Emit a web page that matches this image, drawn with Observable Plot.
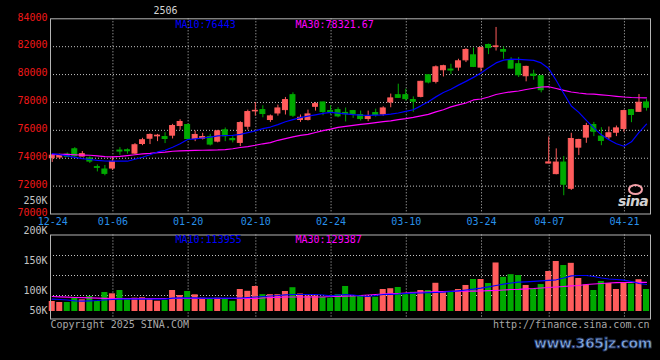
<!DOCTYPE html>
<html><head><meta charset="utf-8">
<script src="https://cdn.jsdelivr.net/npm/d3@7"></script>
<script src="https://cdn.jsdelivr.net/npm/@observablehq/plot@0.6"></script>
<style>
html,body{margin:0;padding:0;background:#000;}
#wrap{position:relative;width:660px;height:360px;background:#000;overflow:hidden;font-family:"DejaVu Sans Mono",monospace;}
#wrap svg{position:absolute;left:0;}
.wm1{position:absolute;left:534px;top:335px;font:bold 14px "DejaVu Sans",sans-serif;color:#86acdf;-webkit-text-stroke:0.8px #1b2b55;letter-spacing:-0.4px;white-space:nowrap;}
.wm2{position:absolute;left:618px;top:193px;font:italic bold 14px "DejaVu Sans",sans-serif;color:#d2d2d2;letter-spacing:-0.6px;}
.wm3{position:absolute;left:628px;top:184px;width:11px;height:7px;border:2px solid #f4a0a8;border-radius:50%;}
</style></head><body><div id="wrap"></div>
<script>
const title = "2506";
const dates = ["12-24","12-25","12-26","12-27","12-30","12-31","01-02","01-03","01-06","01-07",
"01-08","01-09","01-10","01-13","01-14","01-15","01-16","01-17","01-20","01-21",
"01-22","01-23","01-24","01-27","02-05","02-06","02-07","02-10","02-11","02-12",
"02-13","02-14","02-17","02-18","02-19","02-20","02-21","02-24","02-25","02-26",
"02-27","02-28","03-03","03-04","03-05","03-06","03-07","03-10","03-11","03-12",
"03-13","03-14","03-17","03-18","03-19","03-20","03-21","03-24","03-25","03-26",
"03-27","03-28","03-31","04-01","04-02","04-03","04-07","04-08","04-09","04-10",
"04-11","04-14","04-15","04-16","04-17","04-18","04-21","04-22","04-23","04-24"];
const open = [74000,74050,74260,74640,74120,73980,73360,73190,73260,74550,
74570,74330,75020,75400,75570,75520,75620,76310,76380,75380,
75400,75520,75190,76000,75380,75100,76260,77360,77450,76740,
77210,77450,78520,76740,76740,77690,78000,77380,77450,77250,
77380,77100,76810,77240,77140,78000,78520,78520,78170,78400,
79950,79480,80310,80360,80500,81020,81380,80500,82120,81980,
81760,81020,80740,79880,80000,79880,73620,72860,73690,71810,
74760,75480,76380,75550,75500,75830,76100,77450,77330,78000];
const high = [74280,74290,74380,74760,74480,74100,73520,73480,74100,74760,
74670,75050,75430,75740,75710,75830,76430,76760,76430,75950,
75790,75710,76000,76170,75550,76620,77450,78000,77760,77100,
77810,78360,78690,77100,77450,78000,78020,77760,77620,77600,
77430,77380,77380,77520,77690,78600,79310,78950,78400,79520,
80000,80620,80670,80740,81100,81860,81900,81980,82190,83380,
81980,81210,81210,80600,80310,79950,75520,74670,74120,75790,
75360,76500,76570,76190,76240,76310,77450,77500,78570,78210];
const low = [73700,73900,74050,74070,74100,73620,73020,72740,73120,74210,
74290,74260,74900,74980,75190,75050,75380,76000,75330,75190,
75310,74880,75100,75190,75100,74830,76020,77020,76900,76570,
77020,77100,76930,76570,76670,77380,77050,77100,76900,76600,
76860,76670,76620,76950,77020,77620,78290,78100,77290,78330,
79330,79330,79830,80000,80240,80860,80500,80190,81430,81690,
81100,80380,79790,79480,79600,78690,73600,72810,71310,71690,
74190,75070,75550,74900,75310,75550,75860,76550,77290,77380];
const close = [74180,74210,74100,74140,74290,73760,73310,72880,73740,74480,
74500,74930,75290,75670,75620,75380,76310,76600,75380,75670,
75520,74980,75930,75570,75290,76520,77310,77400,77170,77000,
77570,78170,77050,76900,77140,77880,77310,77310,77000,77150,
77140,76810,76950,77100,77570,78290,78330,78240,78050,79480,
79430,80520,80600,80290,80950,81760,80550,81900,81900,82020,
81640,80430,79950,80550,79900,78880,73700,73690,72100,75380,
75310,76310,75900,75240,75790,76140,77380,77100,77980,77620];
const ma10 = [74336,74264,74164,74057,73971,73907,73843,73800,73786,73786,
73786,73929,74071,74250,74450,74571,74786,75036,75343,75393,
75450,75514,75600,75629,75643,75714,75836,75964,76121,76236,
76414,76614,76772,76907,77021,77114,77214,77286,77229,77179,
77129,77093,77071,77086,77107,77157,77243,77357,77479,77757,
78057,78400,78714,78943,79243,79514,79800,80107,80486,80836,
81036,81107,81086,81050,81014,80836,80429,79571,78643,77750,
77286,76714,76179,75679,75321,75036,74857,75179,75857,76443];
const ma30 = [74264,74279,74271,74250,74229,74214,74164,74121,74093,74129,
74193,74250,74307,74350,74407,74443,74500,74529,74550,74564,
74571,74579,74593,74621,74679,74771,74836,74929,75036,75121,
75286,75407,75536,75643,75714,75843,75979,76086,76214,76286,
76357,76429,76486,76550,76621,76679,76772,76836,76929,77036,
77143,77321,77479,77679,77821,77964,78179,78250,78393,78571,
78679,78764,78821,78929,79021,79107,79129,79000,78871,78750,
78679,78621,78593,78550,78500,78443,78393,78357,78336,78321.67];
const volume = [73250,70750,70750,80750,77500,85750,73250,95750,92500,100740,
79000,81500,82500,79000,74000,75750,100740,88250,98250,90000,
81500,79500,81500,79500,73750,103260,98750,110810,90250,90250,
90250,98250,107700,92000,87000,87000,84000,81500,90250,110810,
85750,85750,85250,84000,103260,105180,108290,90250,96500,100740,
100740,118800,98250,98250,103260,113320,128270,128270,118210,169570,
133750,140260,138190,113320,103700,115690,148260,173270,163200,168680,
130790,114510,100740,123240,118210,103260,118210,117020,127680,103260];
const volMa10 = [79000,78250,77000,75000,74250,75000,75750,77000,78250,79000,
79000,79000,79000,79000,79000,79000,81500,82500,82500,82500,
81500,81500,81500,81500,81500,82000,83250,84500,85750,87000,
88250,90000,90750,90750,90750,90750,89500,87500,89500,90750,
89500,87000,85750,88250,90750,91250,92000,93250,94000,94500,
95250,95750,96500,98250,100000,102000,104000,106510,109990,113250,
116500,119540,121460,122500,123680,125010,126200,127530,131970,137450,
138260,138260,135750,131970,129460,128270,126500,123240,118210,115770];
const volMa30 = [85750,85000,84250,83250,82750,82250,81750,81250,80750,80750,
80750,80750,80750,80750,80750,80750,80750,80750,80750,80750,
80750,80750,80750,80750,80750,80750,80750,80750,82000,83250,
83750,84500,84500,84500,84500,84500,84500,85750,85750,86750,
87500,88250,89500,90750,92000,92750,93250,94500,95750,96500,
97000,97750,98250,98750,99000,99000,99000,99500,100250,100740,
102000,103260,103750,105000,105770,106960,108290,109470,110810,112510,
113250,115770,117020,118210,119540,120280,120720,121240,121240,121240];
const volMa10Label = 113955;
const volMa30Label = 129387;
const tickDates = ["12-24","01-06","01-20","02-10","02-24","03-10","03-24","04-07","04-21"];
const priceTicks = [84000,82000,80000,78000,76000,74000,72000,70000];
const priceGrid = [82000,80000,78000,76000,74000,72000];
// the source chart prints its volume labels at these spots of its volume axis
const volTickLabels = ["50K","100K","150K","200K","250K"];
const volTickAt = [50000,100000,174500,250000,325000];
const volGridLines = [188250,138250,88250];
const volBaseline = 48250;
const volTop = 350750;
const copyright = "Copyright 2025 SINA.COM";
const source = "http://finance.sina.com.cn";

const UP = "#ff5c5c", DOWN = "#00aa00";
const GRID = "#c4c4c4", FRAME = "#b4b4b4";
const idx = d3.range(dates.length);
const candles = idx.map(i => ({i, o: open[i], h: high[i], l: low[i], c: close[i], v: volume[i],
  col: close[i] >= open[i] ? UP : DOWN}));
const tickIdx = tickDates.map(d => dates.indexOf(d));
const xDomain = [-0.23, 79.53];
const font = {background: "transparent", fontFamily: "DejaVu Sans Mono, monospace", fontSize: "10px", overflow: "visible"};
const dotted = {stroke: GRID, strokeOpacity: 1, strokeDasharray: "1,2", strokeWidth: 1};

const main = Plot.plot({
  width: 660, height: 232,
  marginLeft: 50, marginRight: 10, marginTop: 18.3, marginBottom: 18.5,
  style: font,
  x: {domain: xDomain, axis: null},
  y: {domain: [70000, 84000], axis: null},
  marks: [
    Plot.gridY(priceGrid, dotted),
    Plot.gridX(tickIdx.slice(1), {...dotted, dx: 0.5}),
    Plot.ruleX(candles, {x: "i", y1: "l", y2: "h", stroke: "col", strokeWidth: 1}),
    Plot.rect(candles, {x1: d => d.i - 0.33, x2: d => d.i + 0.33, y1: "o", y2: "c", fill: "col", stroke: "col", strokeWidth: 1}),
    Plot.line(idx, {x: i => i, y: i => ma30[i], stroke: "#ff00ff", strokeWidth: 1.2}),
    Plot.line(idx, {x: i => i, y: i => ma10[i], stroke: "#0000ff", strokeWidth: 1.2}),
    Plot.axisY(priceTicks, {label: null, tickSize: 0, tickPadding: 3, tickFormat: d => String(d), fill: "#f01818", dy: -1.5}),
    Plot.axisX(tickIdx, {label: null, tickSize: 0, tickPadding: 4, tickFormat: i => dates[i], fill: "#2890ea", dx: 0.5}),
    Plot.frame({stroke: FRAME}),
    Plot.text([title], {frameAnchor: "top-left", dx: 103, dy: -12, lineAnchor: "top", textAnchor: "start", fill: "#d4d4d4"}),
    Plot.text(["MA10:" + ma10[ma10.length - 1]], {frameAnchor: "top-left", dx: 125, dy: 2, lineAnchor: "top", textAnchor: "start", fill: "#0000ff"}),
    Plot.text(["MA30:" + ma30[ma30.length - 1]], {frameAnchor: "top-left", dx: 245, dy: 2, lineAnchor: "top", textAnchor: "start", fill: "#ff00ff"})
  ]
});
main.style.top = "0px";

const vol = Plot.plot({
  width: 660, height: 170,
  marginLeft: 50, marginRight: 10, marginTop: 44.5, marginBottom: 41.5,
  style: font,
  x: {domain: xDomain, axis: null},
  y: {domain: [0, volTop], range: [140.3, 0], axis: null},
  marks: [
    Plot.gridY(volGridLines, dotted),
    Plot.gridX(tickIdx.slice(1), {...dotted, dx: 0.5}),
    Plot.rect(candles, {x1: d => d.i - 0.4, x2: d => d.i + 0.4, y1: volBaseline, y2: "v", fill: "col"}),
    Plot.line(idx, {x: i => i, y: i => volMa30[i], stroke: "#ff00ff", strokeWidth: 1.2}),
    Plot.line(idx, {x: i => i, y: i => volMa10[i], stroke: "#0000ff", strokeWidth: 1.2}),
    Plot.axisY(volTickAt, {label: null, tickSize: 0, tickPadding: 3, tickFormat: d => volTickLabels[volTickAt.indexOf(d)], fill: "#c4c4c4"}),
    Plot.frame({stroke: FRAME}),
    Plot.text(["MA10:" + volMa10Label], {frameAnchor: "top-left", dx: 125, dy: 0.5, lineAnchor: "top", textAnchor: "start", fill: "#0000ff"}),
    Plot.text(["MA30:" + volMa30Label], {frameAnchor: "top-left", dx: 245, dy: 0.5, lineAnchor: "top", textAnchor: "start", fill: "#ff00ff"}),
    Plot.text([copyright], {frameAnchor: "bottom-left", dx: 0, dy: 2, lineAnchor: "top", textAnchor: "start", fill: "#a8a8a8"}),
    Plot.text([source], {frameAnchor: "bottom-right", dx: -1, dy: 2, lineAnchor: "top", textAnchor: "end", fill: "#a8a8a8"})
  ]
});
vol.style.top = "190px";

const wrap = document.getElementById("wrap");
wrap.appendChild(main);
wrap.appendChild(vol);
const w3 = document.createElement("div"); w3.className = "wm3"; wrap.appendChild(w3);
const w2 = document.createElement("div"); w2.className = "wm2"; w2.textContent = "sina"; wrap.appendChild(w2);
const w1 = document.createElement("div"); w1.className = "wm1"; w1.textContent = "www.365jz.com"; wrap.appendChild(w1);
</script></body></html>
